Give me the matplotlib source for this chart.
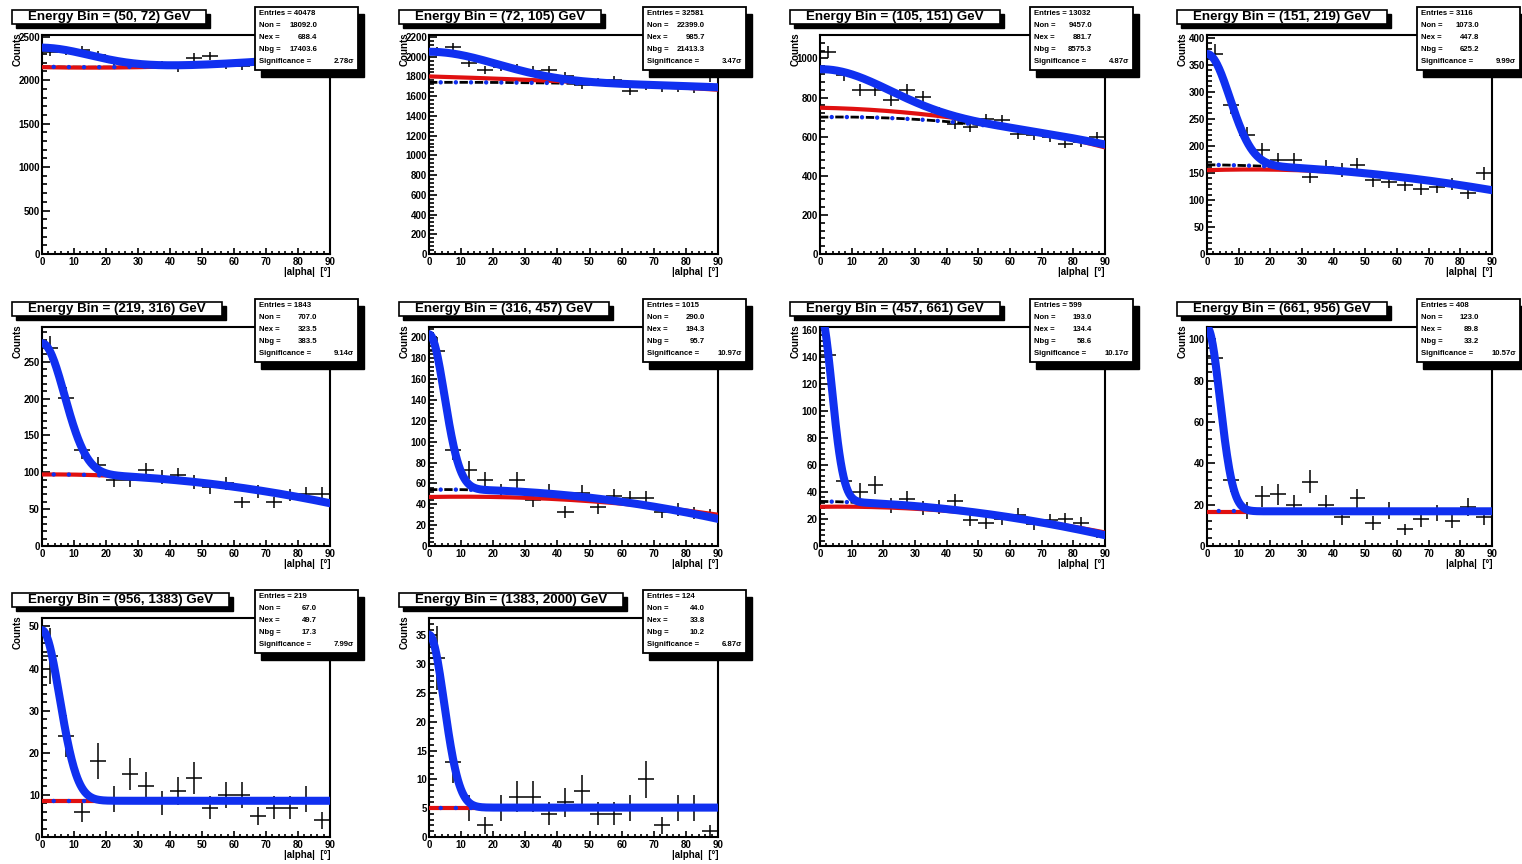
"""Alpha distributions per energy bin, ROOT-style grid of 10 panels."""

import numpy as np
import matplotlib

matplotlib.use("Agg")

import matplotlib.pyplot as plt  # noqa: E402
from matplotlib.patches import Rectangle  # noqa: E402
from matplotlib.ticker import AutoMinorLocator, MultipleLocator  # noqa: E402

plt.rcParams["font.family"] = ["Liberation Sans", "DejaVu Sans"]
plt.rcParams["font.weight"] = "bold"

# ---- data ----------------------------------------------------------------
energy_bins = [(50, 72), (72, 105), (105, 151), (151, 219), (219, 316),
               (316, 457), (457, 661), (661, 956), (956, 1383), (1383, 2000)]

alpha_centers = [2.5, 7.5, 12.5, 17.5, 22.5, 27.5, 32.5, 37.5, 42.5,
                 47.5, 52.5, 57.5, 62.5, 67.5, 72.5, 77.5, 82.5, 87.5]

counts_50_72 = [2330, 2335, 2345, 2290, 2205, 2180, 2170, 2175, 2140,
                2260, 2280, 2175, 2160, 2215, 2230, 2245, 2255, 2270]
counts_72_105 = [2055, 2095, 1935, 1866, 1900, 1880, 1860, 1866, 1800,
                 1712, 1747, 1764, 1650, 1705, 1685, 1685, 1671, 1790]
counts_105_151 = [1034, 915, 838, 838, 786, 838, 803, 726, 667,
                  650, 692, 684, 615, 607, 598, 564, 573, 598]
counts_151_219 = [370, 276, 220, 192, 174, 174, 143, 161, 155,
                  164, 136, 133, 127, 121, 124, 130, 112, 149]
counts_219_316 = [269, 201, 130, 110, 90, 90, 103, 94, 96,
                  87, 80, 85, 59, 74, 59, 69, 71, 71]
counts_316_457 = [187, 92, 73, 63, 52, 63, 44, 52, 33,
                  51, 37, 48, 46, 46, 33, 35, 32, 30]
counts_457_661 = [141, 48, 40, 45, 30, 35, 28, 29, 33,
                  19, 17, 20, 23, 16, 19, 20, 17, 9]
counts_661_956 = [91, 32, 17, 24, 25, 20, 31, 20, 14,
                  23, 11, 17, 8, 13, 16, 12, 19, 14]
counts_956_1383 = [43, 24, 6, 18, 9, 15, 12, 8, 11,
                   14, 7, 10, 10, 5, 7, 7, 9, 4]
counts_1383_2000 = [31, 13, 5, 2, 5, 7, 7, 4, 6,
                    8, 4, 4, 5, 10, 2, 5, 5, 1]

panel_counts = [counts_50_72, counts_72_105, counts_105_151, counts_151_219,
                counts_219_316, counts_316_457, counts_457_661, counts_661_956,
                counts_956_1383, counts_1383_2000]

# fitted curves, read at alpha = 0, 45, 90
bg_fit = [(2155, 2170, 2280), (1740, 1730, 1690), (700, 670, 560),
          (165, 152, 118), (97, 88, 58), (54, 48, 26), (33, 26, 8),
          (16.8, 16.8, 16.8), (8.6, 8.6, 8.6), (5.1, 5.1, 5.1)]
red_fit = [(2150, 2165, 2275), (1800, 1745, 1665), (748, 690, 545),
           (155, 150, 118), (97, 88, 58), (47, 44, 30), (29, 25, 10),
           (16.6, 16.6, 16.6), (8.5, 8.5, 8.5), (5.0, 5.0, 5.0)]
peak_height = [220, 310, 245, 205, 178, 149, 140, 89, 40.5, 30]
peak_sigma = [15.5, 21, 21, 7.2, 7.0, 4.8, 3.7, 4.1, 5.5, 4.7]

entries = [40478, 32581, 13032, 3116, 1843, 1015, 599, 408, 219, 124]
n_on = [18092.0, 22399.0, 9457.0, 1073.0, 707.0, 290.0, 193.0, 123.0, 67.0, 44.0]
n_ex = [688.4, 985.7, 881.7, 447.8, 323.5, 194.3, 134.4, 89.8, 49.7, 33.8]
n_bg = [17403.6, 21413.3, 8575.3, 625.2, 383.5, 95.7, 58.6, 33.2, 17.3, 10.2]
significance = [2.78, 3.47, 4.87, 9.99, 9.14, 10.97, 10.17, 10.57, 7.99, 6.87]

y_max = [2520, 2220, 1120, 405, 297, 210, 162, 106, 52, 38]
y_step = [500, 200, 200, 50, 50, 20, 20, 20, 10, 5]

# ---- layout (pixels, top-left origin) -------------------------------------
W, H = 1522, 864
COL_LEFT = [42, 429, 820, 1207]
COL_WIDTH = [288, 289, 285, 285]
ROW_TOP = [35, 327, 618]
AX_H = 219

BLUE = "#1030f0"
RED = "#e01010"


def px_rect(x, y, w, h):
    """Pixel box (top-left origin) -> figure fraction [l, b, w, h]."""
    return [x / W, 1 - (y + h) / H, w / W, h / H]


def px_pt(x, y):
    return x / W, 1 - y / H


def shadow_box(fig, x, y, w, h, dx, dy, lw=1.2):
    l, b, ww, hh = px_rect(x + dx, y + dy, w, h)
    fig.add_artist(Rectangle((l, b), ww, hh, transform=fig.transFigure,
                             facecolor="black", edgecolor="black", zorder=5))
    l, b, ww, hh = px_rect(x, y, w, h)
    fig.add_artist(Rectangle((l, b), ww, hh, transform=fig.transFigure,
                             facecolor="white", edgecolor="black", lw=lw, zorder=6))


fig = plt.figure(figsize=(W / 100, H / 100), dpi=100)
renderer = fig.canvas.get_renderer()
xf = np.linspace(0, 90, 400)

for i, counts in enumerate(panel_counts):
    r, c = divmod(i, 4)
    left, width, top = COL_LEFT[c], COL_WIDTH[c], ROW_TOP[r]
    ax = fig.add_axes(px_rect(left, top, width, AX_H))

    counts = np.asarray(counts, dtype=float)
    bg = np.polyval(np.polyfit([0, 45, 90], bg_fit[i], 2), xf)
    red = np.polyval(np.polyfit([0, 45, 90], red_fit[i], 2), xf)
    total = bg + peak_height[i] * np.exp(-xf ** 2 / (2 * peak_sigma[i] ** 2))

    ax.errorbar(alpha_centers, counts, xerr=2.5, yerr=np.sqrt(counts), fmt="none",
                ecolor="black", elinewidth=1.1, capsize=0, zorder=2)
    ax.plot(xf, bg, color="black", lw=2, ls=(0, (3, 2.5)), zorder=3)
    ax.plot(xf, red, color=RED, lw=3, zorder=4)
    ax.plot(xf, bg, color=BLUE, lw=3.2, ls=(0.78, (0.01, 3.4)),
            dash_capstyle="round", zorder=5)
    ax.plot(xf, total, color=BLUE, lw=5.8, zorder=6)

    ax.set_xlim(0, 90)
    ax.set_ylim(0, y_max[i])
    ax.xaxis.set_major_locator(MultipleLocator(10))
    ax.xaxis.set_minor_locator(MultipleLocator(2))
    ax.yaxis.set_major_locator(MultipleLocator(y_step[i]))
    ax.yaxis.set_minor_locator(AutoMinorLocator(5))
    ax.tick_params(which="both", direction="in", top=False, right=False,
                   labelsize=7, width=1.2)
    ax.tick_params(axis="y", which="major", length=6, pad=1.5)
    ax.tick_params(axis="y", which="minor", length=3.5)
    ax.tick_params(axis="x", which="major", length=4, pad=2)
    ax.tick_params(axis="x", which="minor", length=2)
    for sp in ax.spines.values():
        sp.set_linewidth(1.5)

    ax.text(1.0, -18 / AX_H, "|alpha|  [\u00b0]", transform=ax.transAxes,
            ha="right", va="center", fontsize=7)
    ax.text(-24 / width, 1.01, "Counts", transform=ax.transAxes, rotation=90,
            ha="center", va="top", fontsize=7)

    # title box with drop shadow
    lo, hi = energy_bins[i]
    tx, ty = px_pt(left - 30 + 16, top - 18)
    t = fig.text(tx, ty, f"Energy Bin = ({lo}, {hi}) GeV", ha="left", va="center",
                 fontsize=9.6, zorder=7)
    tw = t.get_window_extent(renderer).width
    shadow_box(fig, left - 30, top - 25, tw + 32, 14, 4, 4)

    # statistics box
    sx, sy = left + width - 75, top - 28
    shadow_box(fig, sx, sy, 103, 63, 6, 7, lw=1.3)
    rows = [("Entries = %d" % entries[i], None),
            ("Non =", "%.1f" % n_on[i]),
            ("Nex =", "%.1f" % n_ex[i]),
            ("Nbg =", "%.1f" % n_bg[i]),
            ("Significance =", "%.2f\u03c3" % significance[i])]
    for k, (label, value) in enumerate(rows):
        yy = sy + 6.5 + 12.1 * k
        fig.text(*px_pt(sx + 4, yy), label, ha="left", va="center",
                 fontsize=5.6, zorder=7)
        if value is not None:
            vx = sx + 99 if k == 4 else sx + 62
            fig.text(*px_pt(vx, yy), value, ha="right", va="center",
                     fontsize=5.6, zorder=7)

fig.savefig("out.png", dpi=100)
